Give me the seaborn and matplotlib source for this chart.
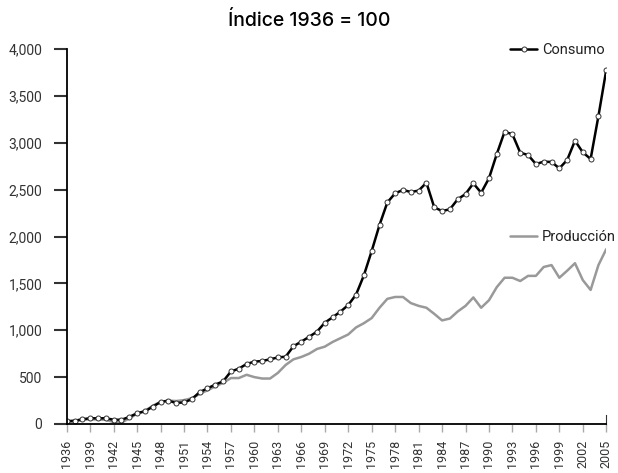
import numpy as np
import pandas as pd
import matplotlib
matplotlib.use('Agg')
import matplotlib.pyplot as plt
import seaborn as sns
from matplotlib.ticker import FuncFormatter

# Data (index 1936 = 100)
years = list(range(1936, 2006))

consumo = [30, 35, 50, 62, 60, 62, 45, 45, 75, 115,
           135, 185, 235, 248, 225, 230, 265, 340, 380, 420,
           455, 560, 590, 640, 665, 672, 690, 710, 718, 830,
           878, 930, 985, 1080, 1138, 1198, 1269, 1380, 1585, 1845,
           2123, 2363, 2461, 2496, 2475, 2489, 2574, 2311, 2272, 2290,
           2397, 2453, 2567, 2467, 2621, 2880, 3118, 3090, 2894, 2869,
           2773, 2798, 2795, 2727, 2816, 3022, 2898, 2827, 3285, 3776]

produccion = [20, 25, 45, 50, 48, 45, 20, 15, 60, 110,
              140, 195, 235, 250, 245, 255, 275, 320, 360, 400,
              440, 490, 490, 525, 500, 485, 485, 545, 630, 690,
              715, 750, 800, 825, 875, 915, 955, 1030, 1075, 1130,
              1240, 1335, 1355, 1355, 1290, 1260, 1240, 1175, 1105, 1125,
              1200, 1260, 1350, 1240, 1320, 1460, 1560, 1560, 1525, 1580,
              1580, 1675, 1695, 1560, 1635, 1715, 1535, 1430, 1695, 1865]

tick_years = list(range(1936, 2006, 3))
y_ticks = list(range(0, 4001, 500))

df = pd.DataFrame({'year': years, 'Consumo': consumo, 'Producción': produccion})

sns.set_style('white')
plt.rcParams['font.family'] = ['Roboto', 'DejaVu Sans']

fig = plt.figure(figsize=(6.18, 4.73), dpi=100)
ax = fig.add_axes([0.108, 0.1036, 0.873, 0.7928])

sns.lineplot(data=df, x='year', y='Producción', ax=ax, color='#999999',
             linewidth=1.8, label='Producción')
sns.lineplot(data=df, x='year', y='Consumo', ax=ax, color='black',
             linewidth=1.8, marker='o', markersize=3.6,
             markerfacecolor='white', markeredgecolor='#333333',
             markeredgewidth=0.7, label='Consumo')

ax.set_xlim(1936, 2005)
ax.set_ylim(0, 4000)
ax.set_xticks(tick_years)
ax.set_yticks(y_ticks)
ax.yaxis.set_major_formatter(FuncFormatter(lambda v, p: f'{int(v):,}'))
ax.set_xlabel('')
ax.set_ylabel('')

ax.spines['top'].set_visible(False)
ax.spines['right'].set_bounds(0, 100)
ax.spines['right'].set_color('#333333')
ax.spines['left'].set_color('black')
ax.spines['bottom'].set_color('black')
ax.spines['left'].set_linewidth(1.3)
ax.spines['bottom'].set_linewidth(1.3)

ax.tick_params(axis='x', direction='out', length=5.5, width=1, color='#aaaaaa',
               labelsize=9, labelcolor='#333333', labelrotation=90, pad=6)
ax.tick_params(axis='y', direction='out', length=9.5, width=1.5, color='#333333',
               labelsize=10, labelcolor='#333333', pad=8)
ax.tick_params(bottom=True, left=True)

# direct-label style legends
handles, labels = ax.get_legend_handles_labels()
hmap = dict(zip(labels, handles))
ax.get_legend().remove()
leg1 = fig.legend([hmap['Consumo']], ['Consumo'], loc='center left',
                  bbox_to_anchor=(0.826, 0.894), frameon=False, fontsize=10.5,
                  borderpad=0, borderaxespad=0, handlelength=1.8,
                  handletextpad=0.35, numpoints=1)
leg2 = fig.legend([hmap['Producción']], ['Producción'], loc='center left',
                  bbox_to_anchor=(0.826, 0.499), frameon=False, fontsize=10.5,
                  borderpad=0, borderaxespad=0, handlelength=1.8,
                  handletextpad=0.35)
for t in leg1.get_texts() + leg2.get_texts():
    t.set_color('#222222')

fig.text(0.5, 0.956, 'Índice 1936 = 100', ha='center', va='center',
         fontsize=14, fontweight='medium', color='black', family=['Inter', 'DejaVu Sans'])

fig.savefig('out.png', dpi=100)
